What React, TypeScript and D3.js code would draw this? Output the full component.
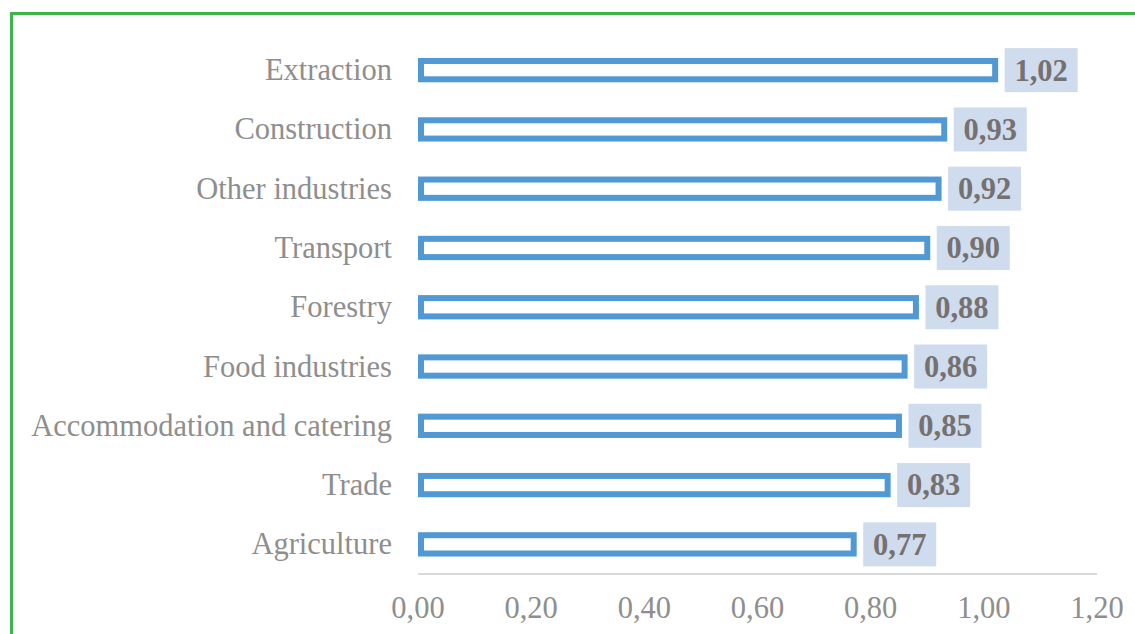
import React from "react";
import * as d3 from "d3";

const categories = [
  "Extraction",
  "Construction",
  "Other industries",
  "Transport",
  "Forestry",
  "Food industries",
  "Accommodation and catering",
  "Trade",
  "Agriculture",
];
const values = [1.02, 0.93, 0.92, 0.9, 0.88, 0.86, 0.85, 0.83, 0.77];
const ticks = [0, 0.2, 0.4, 0.6, 0.8, 1.0, 1.2];

const W = 1135;
const H = 634;

const fmt = (v: number) => v.toFixed(2).replace(".", ",");

export default function App() {
  const x = d3.scaleLinear().domain([0, 1.2]).range([418, 1097]);
  const y = d3.scaleBand<string>().domain(categories).range([40.5, 574]).paddingInner(0.59).paddingOuter(0.295);
  const bh = y.bandwidth();
  const font = "'Liberation Serif', 'Times New Roman', serif";
  return (
    <svg width={W} height={H} style={{ position: "absolute", left: 0, top: 0, background: "#fff" }}>
      <rect x={11.5} y={13.5} width={W + 20} height={H + 20} fill="none" stroke="#3db54a" strokeWidth={3} />
      {categories.map((c, i) => {
        const v = values[i];
        const cy = (y(c) as number) + bh / 2;
        const x0 = x(0) + 3;
        const x1 = x(v);
        return (
          <g key={c}>
            <text x={392} y={cy} dy="0.33em" textAnchor="end" fontFamily={font} fontSize={30.5} fill="#8e8e8e">
              {c}
            </text>
            <rect x={x0} y={cy - bh / 2 + 3} width={x1 - x0} height={bh - 6} fill="#fff" stroke="#5099d4" strokeWidth={6} />
            <rect x={x1 + 9.5} y={cy - 22} width={73} height={44} fill="#cfdcee" />
            <text x={x1 + 9.5 + 36.5} y={cy} dy="0.34em" textAnchor="middle" fontFamily={font} fontWeight="bold" fontSize={30.5} fill="#767171">
              {fmt(v)}
            </text>
          </g>
        );
      })}
      <line x1={x(0)} x2={x(1.2)} y1={574} y2={574} stroke="#d9d9d9" strokeWidth={2} />
      {ticks.map((t) => (
        <text key={t} x={x(t)} y={618} textAnchor="middle" fontFamily={font} fontSize={30.5} fill="#8e8e8e">
          {fmt(t)}
        </text>
      ))}
    </svg>
  );
}
